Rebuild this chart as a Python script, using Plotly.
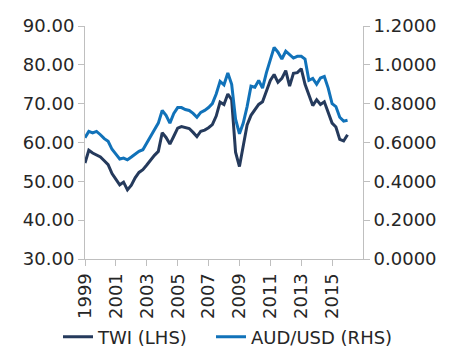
import plotly.graph_objects as go

# Quarterly observation dates
dates = [
    "1999-01-01","1999-04-01","1999-07-01","1999-10-01",
    "2000-01-01","2000-04-01","2000-07-01","2000-10-01",
    "2001-01-01","2001-04-01","2001-07-01","2001-10-01",
    "2002-01-01","2002-04-01","2002-07-01","2002-10-01",
    "2003-01-01","2003-04-01","2003-07-01","2003-10-01",
    "2004-01-01","2004-04-01","2004-07-01","2004-10-01",
    "2005-01-01","2005-04-01","2005-07-01","2005-10-01",
    "2006-01-01","2006-04-01","2006-07-01","2006-10-01",
    "2007-01-01","2007-04-01","2007-07-01","2007-10-01",
    "2008-01-01","2008-04-01","2008-07-01","2008-10-01",
    "2009-01-01","2009-04-01","2009-07-01","2009-10-01",
    "2010-01-01","2010-04-01","2010-07-01","2010-10-01",
    "2011-01-01","2011-04-01","2011-07-01","2011-10-01",
    "2012-01-01","2012-04-01","2012-07-01","2012-10-01",
    "2013-01-01","2013-04-01","2013-07-01","2013-10-01",
    "2014-01-01","2014-04-01","2014-07-01","2014-10-01",
    "2015-01-01","2015-04-01","2015-07-01","2015-10-01",
    "2016-01-01",
]

# Trade-weighted index (left axis)
twi = [
    54.7, 58.0, 57.3, 56.8,
    56.3, 55.3, 54.3, 52.0,
    50.4, 49.1, 49.8, 47.8,
    49.0, 50.9, 52.3, 53.0,
    54.2, 55.5, 56.7, 57.7,
    62.5, 61.3, 59.6, 61.6,
    63.7, 64.1, 63.9, 63.6,
    62.6, 61.5, 62.9, 63.2,
    63.8, 64.6, 66.8, 70.4,
    69.8, 72.5, 71.0, 57.5,
    53.8, 59.0, 64.5, 67.0,
    68.4, 69.8, 70.5, 73.0,
    76.0, 77.5, 75.5, 76.5,
    78.5, 74.5, 77.8, 78.0,
    79.0, 75.0, 72.0, 69.5,
    71.0, 69.8, 70.5, 67.5,
    65.0, 64.0, 60.8, 60.4,
    62.0,
]

# AUD/USD (right axis)
audusd = [
    0.625, 0.657, 0.649, 0.657,
    0.640, 0.620, 0.606, 0.565,
    0.540, 0.515, 0.520, 0.511,
    0.525, 0.540, 0.555, 0.563,
    0.600, 0.630, 0.666, 0.700,
    0.765, 0.740, 0.700, 0.750,
    0.780, 0.780, 0.770, 0.765,
    0.750, 0.730, 0.755, 0.765,
    0.780, 0.800, 0.850, 0.915,
    0.897, 0.958, 0.900, 0.720,
    0.645, 0.700, 0.785, 0.890,
    0.885, 0.920, 0.880, 0.960,
    1.020, 1.090, 1.065, 1.030,
    1.070, 1.050, 1.035, 1.044,
    1.044, 1.030, 0.920, 0.930,
    0.900, 0.932, 0.940, 0.880,
    0.800, 0.785, 0.730, 0.710,
    0.715,
]

left_ticks = [30, 40, 50, 60, 70, 80, 90]
right_ticks = [0.0, 0.2, 0.4, 0.6, 0.8, 1.0, 1.2]
year_ticks = ["1999", "2001", "2003", "2005", "2007", "2009", "2011", "2013", "2015"]

NAVY = "#253A5C"
BLUE = "#1172B9"
AXIS = "#BFBFBF"
TXT = "#262626"
FONT = "DejaVu Sans"

fig = go.Figure()
fig.add_trace(go.Scatter(x=dates, y=twi, name="TWI (LHS)", mode="lines",
                         line=dict(color=NAVY, width=3), yaxis="y",
                         legend="legend"))
fig.add_trace(go.Scatter(x=dates, y=audusd, name="AUD/USD (RHS)", mode="lines",
                         line=dict(color=BLUE, width=3), yaxis="y2",
                         legend="legend2"))

leg_common = dict(orientation="h", xref="container", yref="container",
                  xanchor="left", yanchor="middle", y=26 / 355,
                  font=dict(size=18, family=FONT, color=TXT),
                  bgcolor="rgba(0,0,0,0)", borderwidth=0)

fig.update_layout(
    width=450, height=355,
    margin=dict(l=77, r=95, t=18, b=104, autoexpand=False),
    paper_bgcolor="white", plot_bgcolor="white",
    font=dict(family=FONT, size=18, color=TXT),
    showlegend=True,
    legend=dict(x=50 / 450, **leg_common),
    legend2=dict(x=203 / 450, **leg_common),
    xaxis=dict(
        type="date",
        range=["1999-01-01", "2017-01-01"],
        tickvals=[y + "-01-01" for y in year_ticks],
        ticktext=year_ticks,
        tickangle=-90,
        showgrid=False, zeroline=False,
        showline=True, linecolor=AXIS, linewidth=1,
        ticks="outside", ticklen=6, tickcolor=AXIS,
        automargin=False,
    ),
    yaxis=dict(
        range=[30, 90],
        tickvals=left_ticks,
        ticktext=[f"{v:.2f}" for v in left_ticks],
        showgrid=False, zeroline=False,
        showline=True, linecolor=AXIS, linewidth=1,
        ticks="outside", ticklen=6, tickcolor=AXIS,
        automargin=False,
    ),
    yaxis2=dict(
        range=[0, 1.2],
        overlaying="y", side="right",
        tickvals=right_ticks,
        ticktext=[f"{v:.4f}" for v in right_ticks],
        showgrid=False, zeroline=False,
        showline=True, linecolor=AXIS, linewidth=1,
        ticks="outside", ticklen=6, tickcolor=AXIS,
        automargin=False,
    ),
)

fig.write_html("out.html")
